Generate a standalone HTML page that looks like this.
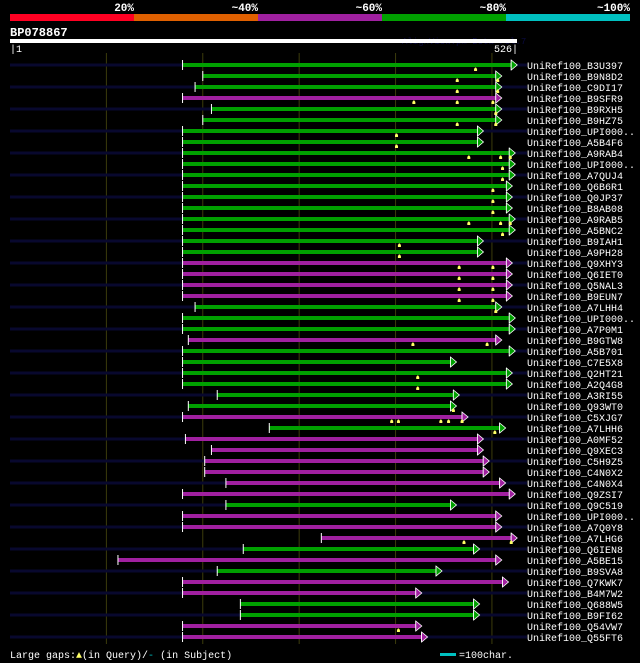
<!DOCTYPE html>
<html><head><meta charset="utf-8"><style>
html,body{margin:0;padding:0;background:#000;width:640px;height:663px;overflow:hidden}
svg{display:block}
text{font-family:"Liberation Mono",monospace}
</style></head><body>
<svg id="c" width="640" height="663" xmlns="http://www.w3.org/2000/svg">
<g>
<rect x="10" y="14" width="124" height="7" fill="#ff0022"/>
<rect x="134" y="14" width="124" height="7" fill="#e06000"/>
<rect x="258" y="14" width="124" height="7" fill="#a020a0"/>
<rect x="382" y="14" width="124" height="7" fill="#00a000"/>
<rect x="506" y="14" width="124" height="7" fill="#00c0c0"/>
<text x="134" y="11" fill="#fff" font-size="11" font-weight="bold" text-anchor="end">20%</text>
<text x="258" y="11" fill="#fff" font-size="11" font-weight="bold" text-anchor="end">~40%</text>
<text x="382" y="11" fill="#fff" font-size="11" font-weight="bold" text-anchor="end">~60%</text>
<text x="506" y="11" fill="#fff" font-size="11" font-weight="bold" text-anchor="end">~80%</text>
<text x="630" y="11" fill="#fff" font-size="11" font-weight="bold" text-anchor="end">~100%</text>
</g>
<text x="10" y="36" fill="#fff" font-size="12" font-weight="bold">BP078867</text>
<text x="402" y="44" fill="#0a0a40" font-size="9">AlignView.pm Beta rel.7</text>
<rect x="10" y="39" width="507" height="4" fill="#fff"/>
<text x="10" y="52" fill="#fff" font-size="10">|1</text>
<text x="518" y="52" fill="#fff" font-size="10" text-anchor="end">526|</text>
<g id="grid"></g><g id="rows"></g>
<text x="10" y="658" fill="#fff" font-size="10">Large gaps:<tspan fill="#ffff66">▲</tspan>(in Query)/<tspan fill="#00c0c0">-</tspan> (in Subject)</text>
<rect x="440" y="653" width="16" height="3" fill="#00c0c0"/>
<text x="459" y="658" fill="#fff" font-size="10">=100char.</text>
</svg>
<script>
const names=["B3U397","B9N8D2","C9DI17","B9SFR9","B9RXH5","B9HZ75","UPI000..","A5B4F6","A9RAB4","UPI000..","A7QUJ4","Q6B6R1","Q0JP37","B8AB08","A9RAB5","A5BNC2","B9IAH1","A9PH28","Q9XHY3","Q6IET0","Q5NAL3","B9EUN7","A7LHH4","UPI000..","A7P0M1","B9GTW8","A5B701","C7E5X8","Q2HT21","A2Q4G8","A3RI55","Q93WT0","C5XJG7","A7LHH6","A0MF52","Q9XEC3","C5H9Z5","C4N0X2","C4N0X4","Q9ZSI7","Q9C519","UPI000..","A7Q0Y8","A7LHG6","Q6IEN8","A5BE15","B9SVA8","Q7KWK7","B4M7W2","Q688W5","B9FI62","Q54VW7","Q55FT6"];
const starts=[179,200,192,179,209,200,179,179,179,179,179,179,179,179,179,179,179,179,179,179,179,179,192,179,179,185,179,179,179,179,215,185,179,269,182,209,202,202,224,179,224,179,179,323,242,112,215,179,179,239,239,179,179];
const ends=[520,504,504,504,504,504,485,485,518,518,518,515,515,515,518,518,485,485,515,515,515,515,504,518,518,504,518,457,515,515,460,457,469,508,485,485,491,491,508,518,457,504,504,520,481,504,442,511,421,481,481,421,427];
const colors=["g","g","g","m","g","g","g","g","g","g","g","g","g","g","g","g","g","g","m","m","m","m","g","g","g","m","g","g","g","g","g","g","m","g","m","m","m","m","m","m","g","m","m","m","g","m","g","m","m","g","g","m","m"];
const gapMarks=[[483],[464,506],[464,506],[419,464,501],[504],[464,504],[401],[401],[476,509,519],[511],[511],[501],[501],[501],[476,509,519],[511],[404],[404],[466,501],[466,501],[466,501],[466,501],[504],[],[],[418,495],[],[],[423],[423],[],[460],[396,403,447,455,469],[503],[],[],[],[],[],[],[],[],[],[471,520],[],[],[],[],[],[],[],[403],[]];
const gridTicks=[100,200,300,400,500];
const xs=p=>10+p*507/526;
const rowY=i=>65+i*11;
const NS="http://www.w3.org/2000/svg";
function mk(t,a,parent){const e=document.createElementNS(NS,t);for(const k in a)e.setAttribute(k,a[k]);parent.appendChild(e);return e;}
const grid=document.getElementById('grid'),rows=document.getElementById('rows');
gridTicks.forEach(t=>{
 const l=mk('line',{x1:xs(t),x2:xs(t),y1:53,y2:644,stroke:'#3c3c0c','stroke-width':1},grid);
 
 
});
const col={g:'#00a000',m:'#a020a0'};
names.forEach((n,i)=>{
 const y=rowY(i);
 const g=mk('g',{},rows);
 
 
 if(i%2===0){
  const bg=mk('rect',{x:10,y:y-1.5,width:517,height:3,fill:'#08082e'},g);
  
  
 }
 const x1=xs(starts[i]),x2=xs(ends[i]),c=col[colors[i]];
 const b=mk('rect',{x:x1,y:y-2,width:x2-x1,height:4,fill:c},g);
 
 
 const s=mk('rect',{x:x1-0.5,y:y-5,width:1,height:10,fill:'#fff'},g);
 
 
 const e=mk('rect',{x:x2-0.5,y:y-5,width:1,height:10,fill:'#fff'},g);
 
 
 const a=mk('polygon',{points:`${x2},${y-5} ${x2+6},${y} ${x2},${y+5}`,fill:c,stroke:'#fff','stroke-width':0.8},g);
 
 
 gapMarks[i].forEach(p=>{
  const m=mk('polygon',{points:`${xs(p)-1.5},${y+6} ${xs(p)+1.5},${y+6} ${xs(p)+1.5},${y+4} ${xs(p)+0.5},${y+2.5} ${xs(p)-0.5},${y+2.5} ${xs(p)-1.5},${y+4}`,fill:'#ffff66'},g);
  
  
 });
 const t=mk('text',{x:527,y:y+4,fill:'#fff','font-size':10},g);
 t.textContent='UniRef100_'+n;
 
 
});
</script>
</body></html>
